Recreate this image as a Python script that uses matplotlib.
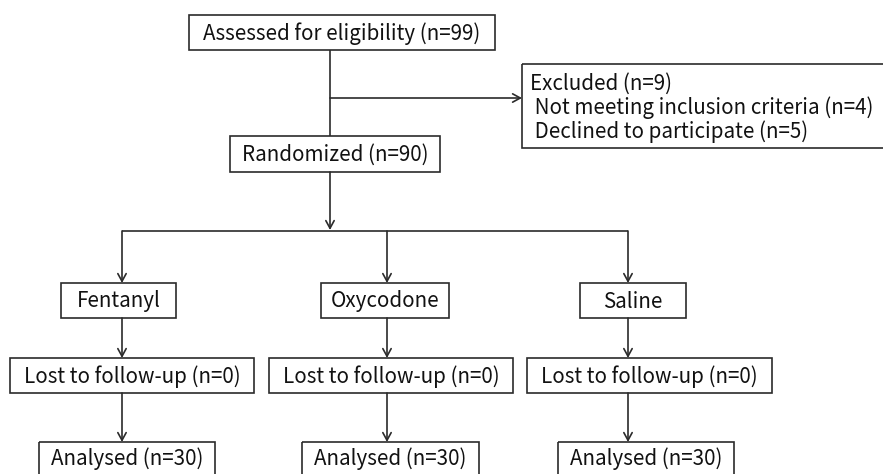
import matplotlib.pyplot as plt
from matplotlib.patches import Rectangle

plt.rcParams['font.family'] = ['Noto Sans CJK KR', 'DejaVu Sans']

# flowchart text
top_label = 'Assessed for eligibility (n=99)'
excluded_lines = ['Excluded (n=9)',
                  ' Not meeting inclusion criteria (n=4)',
                  ' Declined to participate (n=5)']
random_label = 'Randomized (n=90)'
groups = ['Fentanyl', 'Oxycodone', 'Saline']
lost_counts = [0, 0, 0]
analysed_counts = [30, 30, 30]

# layout in pixel coordinates (x0, y0, x1, y1)
col_x = [122, 387, 628]
group_boxes = [(61, 283, 176, 318), (321, 283, 449, 318), (580, 283, 686, 318)]
lost_boxes = [(10, 358, 254, 393), (269, 358, 513, 393), (527, 358, 772, 393)]
anal_boxes = [(39, 442, 215, 480), (302, 442, 479, 480), (558, 442, 734, 480)]

LC = '#2b2b2b'
FS = 14.8

fig = plt.figure(figsize=(8.83, 4.74), dpi=100)
ax = fig.add_axes([0, 0, 1, 1])
ax.set_xlim(0, 883)
ax.set_ylim(474, 0)
ax.axis('off')


def box(b, text, fs=FS, ty=None):
    x0, y0, x1, y1 = b
    ax.add_patch(Rectangle((x0, y0), x1 - x0, y1 - y0, fill=False,
                           edgecolor=LC, linewidth=1.2))
    if ty is None:
        ty = (y0 + y1) / 2 + 1
    ax.text((x0 + x1) / 2, ty, text, ha='center', va='center', fontsize=fs,
            color='#111111')


def line(x0, y0, x1, y1):
    ax.plot([x0, x1], [y0, y1], color=LC, linewidth=1.2,
            solid_capstyle='butt')


def arrow(x0, y0, x1, y1):
    ax.annotate('', xy=(x1, y1), xytext=(x0, y0),
                arrowprops=dict(arrowstyle='->,head_length=0.55,head_width=0.3',
                                color=LC, lw=1.2, shrinkA=0, shrinkB=0))


# top part
box((189, 15, 495, 50), top_label)
line(330, 50, 330, 136)
arrow(330, 98, 522, 98)

ax.add_patch(Rectangle((522, 64), 370, 84, fill=False, edgecolor=LC,
                       linewidth=1.2))
for i, t in enumerate(excluded_lines):
    ax.text(530, 84 + i * 24, t, ha='left', va='center', fontsize=FS,
            color='#111111')

box((230, 136, 440, 172), random_label)
arrow(330, 172, 330, 230)

# branches
line(col_x[0], 231, col_x[2], 231)
for i, g in enumerate(groups):
    arrow(col_x[i], 231, col_x[i], 283)
    box(group_boxes[i], g)
    arrow(col_x[i], 318, col_x[i], 358)
    box(lost_boxes[i], f'Lost to follow-up (n={lost_counts[i]})')
    arrow(col_x[i], 393, col_x[i], 442)
    box(anal_boxes[i], f'Analysed (n={analysed_counts[i]})', ty=459)

fig.savefig('out.png', dpi=100)
